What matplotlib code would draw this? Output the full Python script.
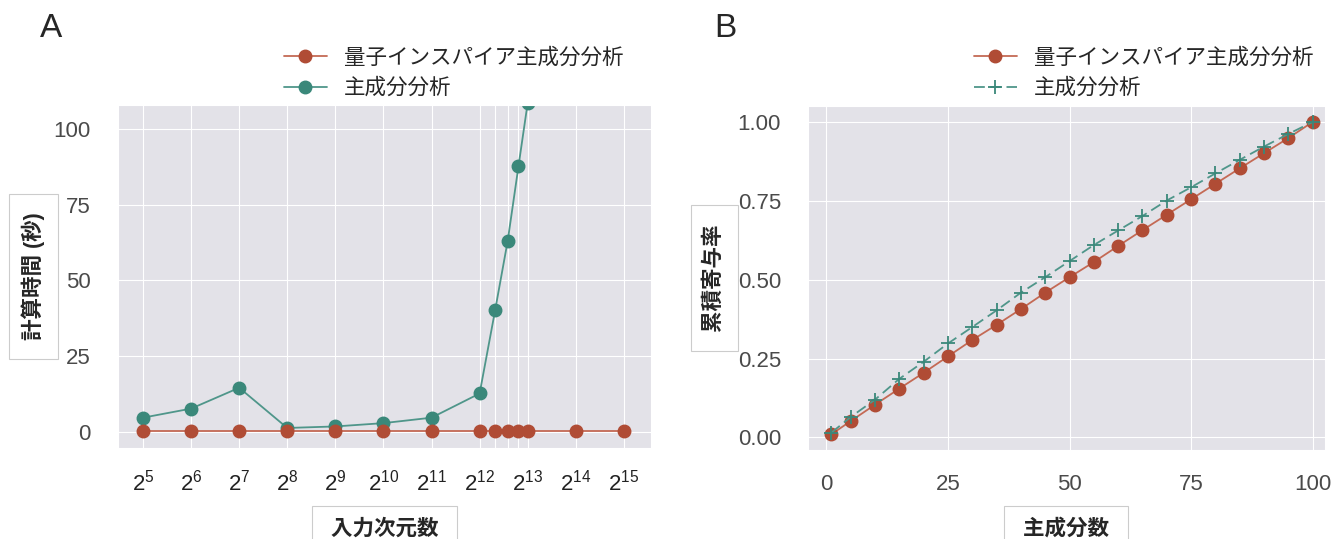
import numpy as np
import matplotlib as mpl
mpl.use('Agg')
import matplotlib.pyplot as plt
import seaborn as sns

sns.set_style('darkgrid')
plt.rcParams['font.family'] = ['Liberation Sans', 'Noto Sans CJK JP', 'DejaVu Sans']
plt.rcParams['mathtext.fontset'] = 'custom'
plt.rcParams['mathtext.rm'] = 'Liberation Sans'
plt.rcParams['mathtext.it'] = 'Liberation Sans:italic'

# panel A: computation time vs input dimension
dims = [32, 64, 128, 256, 512, 1024, 2048, 4096, 5120, 6144, 7168, 8192, 16384, 32768]
time_qipca = [0.05, 0.05, 0.05, 0.05, 0.05, 0.05, 0.05, 0.05, 0.05, 0.05, 0.05, 0.05, 0.05, 0.05]
time_pca = [4.6, 7.6, 14.5, 1.2, 1.7, 2.8, 4.6, 12.6, 40.1, 63.2, 87.7, 108.8]

# panel B: cumulative explained variance
n_comp = [1, 5, 10, 15, 20, 25, 30, 35, 40, 45, 50, 55, 60, 65, 70, 75, 80, 85, 90, 95, 100]
cum_qipca = [0.01, 0.052, 0.104, 0.155, 0.205, 0.257, 0.309, 0.357, 0.407, 0.459, 0.508,
             0.556, 0.607, 0.657, 0.706, 0.755, 0.804, 0.853, 0.901, 0.949, 1.0]
cum_pca = [0.015, 0.065, 0.12, 0.186, 0.24, 0.298, 0.35, 0.403, 0.459, 0.508, 0.559,
           0.61, 0.656, 0.702, 0.751, 0.793, 0.837, 0.88, 0.922, 0.962, 1.0]

lbl_q = '量子インスパイア主成分分析'
lbl_p = '主成分分析'
red = '#b04c35'
red_line = '#c46a55'
green = '#3a887a'
green_line = '#4f968a'
tick_col = '#4a4a4a'
bg = '#e3e2e8'
box = dict(boxstyle='square,pad=0.6', fc='white', ec='#cccccc', lw=0.8)

fig = plt.figure(figsize=(13.32, 5.39), dpi=100)
ax1 = fig.add_axes([0.0886, 0.169, 0.4, 0.636], facecolor=bg)
ax2 = fig.add_axes([0.6066, 0.165, 0.388, 0.638], facecolor=bg)

# ---- A ----
x_log = np.log2(dims)
ax1.plot(x_log, time_qipca, '-o', color=red_line, mfc=red, mec=red, lw=1.3, ms=9,
         label=lbl_q, zorder=3)
ax1.plot(x_log[:len(time_pca)], time_pca, '-o', color=green_line, mfc=green, mec=green,
         lw=1.3, ms=9, label=lbl_p, zorder=2)
ax1.set_xticks(x_log)
ax1.set_xticklabels(['' if not float(v).is_integer() else r'$\mathregular{2^{%d}}$' % int(v) for v in x_log])
ax1.set_xlim(4.48, 15.56)
ax1.set_ylim(-5.4, 108)
ax1.set_yticks([0, 25, 50, 75, 100])
ax1.tick_params(axis='x', pad=12, labelsize=16, labelcolor='#222222')
ax1.tick_params(axis='y', pad=16, labelsize=16, labelcolor=tick_col)
ax1.set_ylabel(' 計算時間 (秒) ', fontsize=15.5, fontweight='bold', bbox=box, labelpad=6)
ax1.set_xlabel(' 入力次元数 ', fontsize=15.5, fontweight='bold', bbox=box, labelpad=17)
ax1.legend(loc='upper left', bbox_to_anchor=(0.213, 0.912), bbox_transform=fig.transFigure,
           frameon=False, fontsize=15.5, borderaxespad=0, borderpad=0, handlelength=2.0,
           labelspacing=0.45)
fig.text(0.030, 0.975, 'A', fontsize=24, va='top')

# ---- B ----
ax2.plot(n_comp, cum_qipca, '-o', color=red_line, mfc=red, mec=red, lw=1.3, ms=9,
         label=lbl_q, zorder=2)
ax2.plot(n_comp, cum_pca, '+', ls=(0, (6, 3)), color=green_line, mec=green, lw=1.3,
         ms=10, mew=1.3, label=lbl_p, zorder=3)
ax2.set_xlim(-3.8, 102.5)
ax2.set_ylim(-0.04, 1.05)
ax2.set_xticks([0, 25, 50, 75, 100])
ax2.set_yticks([0.0, 0.25, 0.5, 0.75, 1.0])
ax2.set_yticklabels(['0.00', '0.25', '0.50', '0.75', '1.00'])
ax2.tick_params(axis='x', pad=14, labelsize=16, labelcolor=tick_col)
ax2.tick_params(axis='y', pad=16, labelsize=16, labelcolor=tick_col)
ax2.set_ylabel(' 累積寄与率 ', fontsize=15.5, fontweight='bold', bbox=box, labelpad=9)
ax2.set_xlabel(' 主成分数 ', fontsize=15.5, fontweight='bold', bbox=box, labelpad=17)
ax2.legend(loc='upper left', bbox_to_anchor=(0.731, 0.912), bbox_transform=fig.transFigure,
           frameon=False, fontsize=15.5, borderaxespad=0, borderpad=0, handlelength=2.0,
           labelspacing=0.45)
fig.text(0.536, 0.975, 'B', fontsize=24, va='top')

plt.savefig('out.png', dpi=100)
